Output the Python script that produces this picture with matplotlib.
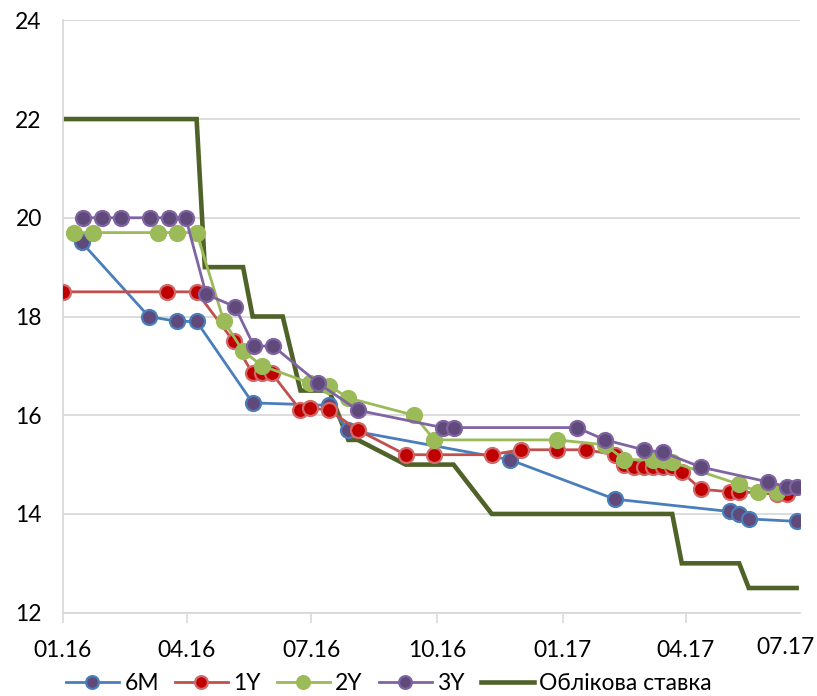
import matplotlib
matplotlib.use('Agg')
import matplotlib.pyplot as plt
import matplotlib.dates as mdates
import pandas as pd

# Data (dates, % rates)
m6_dates = ['2016-01-15', '2016-03-04', '2016-03-25', '2016-04-08', '2016-05-19', '2016-07-14',
            '2016-07-28', '2016-11-23', '2017-02-08', '2017-05-03', '2017-05-10', '2017-05-17',
            '2017-06-21']
m6_vals = [19.5, 18.0, 17.9, 17.9, 16.25, 16.2, 15.7, 15.1, 14.3, 14.05, 14.0, 13.9, 13.85]

y1_dates = ['2016-01-01', '2016-03-17', '2016-04-08', '2016-05-05', '2016-05-19', '2016-05-26',
            '2016-06-02', '2016-06-23', '2016-06-30', '2016-07-14', '2016-08-04', '2016-09-08',
            '2016-09-29', '2016-11-10', '2016-12-01', '2016-12-28', '2017-01-18', '2017-02-08',
            '2017-02-15', '2017-02-22', '2017-03-01', '2017-03-08', '2017-03-15', '2017-03-22',
            '2017-03-29', '2017-04-12', '2017-05-03', '2017-05-10', '2017-06-07', '2017-06-14']
y1_vals = [18.5, 18.5, 18.5, 17.5, 16.85, 16.85, 16.85, 16.1, 16.15, 16.1, 15.7, 15.2,
           15.2, 15.2, 15.3, 15.3, 15.3, 15.2, 15.0, 14.95, 14.95, 14.95, 14.95, 14.95,
           14.85, 14.5, 14.45, 14.45, 14.4, 14.4]

y2_dates = ['2016-01-09', '2016-01-23', '2016-03-11', '2016-03-25', '2016-04-08', '2016-04-28',
            '2016-05-12', '2016-05-26', '2016-06-30', '2016-07-14', '2016-07-28', '2016-09-14',
            '2016-09-29', '2016-12-28', '2017-02-01', '2017-02-15', '2017-03-08', '2017-03-15',
            '2017-03-22', '2017-05-10', '2017-05-24', '2017-06-07']
y2_vals = [19.7, 19.7, 19.7, 19.7, 19.7, 17.9, 17.3, 17.0, 16.65, 16.6, 16.35, 16.0,
           15.5, 15.5, 15.4, 15.1, 15.1, 15.1, 15.05, 14.6, 14.45, 14.45]

y3_dates = ['2016-01-16', '2016-01-30', '2016-02-13', '2016-03-05', '2016-03-19', '2016-03-31',
            '2016-04-15', '2016-05-06', '2016-05-20', '2016-06-03', '2016-07-06', '2016-08-04',
            '2016-10-05', '2016-10-13', '2017-01-11', '2017-02-01', '2017-03-01', '2017-03-15',
            '2017-04-12', '2017-05-31', '2017-06-14', '2017-06-21']
y3_vals = [20.0, 20.0, 20.0, 20.0, 20.0, 20.0, 18.45, 18.2, 17.4, 17.4, 16.65, 16.1,
           15.75, 15.75, 15.75, 15.5, 15.3, 15.25, 14.95, 14.65, 14.55, 14.55]

rate_dates = ['2016-01-01', '2016-04-08', '2016-04-14', '2016-05-12', '2016-05-19', '2016-06-10',
              '2016-06-23', '2016-07-14', '2016-07-28', '2016-08-04', '2016-09-08', '2016-10-13',
              '2016-11-10', '2017-03-22', '2017-03-29', '2017-05-10', '2017-05-17', '2017-06-21']
rate_vals = [22, 22, 19, 19, 18, 18, 16.5, 16.5, 15.5, 15.5, 15, 15, 14, 14, 13, 13, 12.5, 12.5]

tick_dates = ['2016-01-01', '2016-04-01', '2016-07-01', '2016-10-01', '2017-01-01', '2017-04-01']
series_names = ['6M', '1Y', '2Y', '3Y']
rate_name = 'Облікова ставка'

plt.rcParams['font.family'] = ['Lato', 'DejaVu Sans']
fs = 16.5

fig = plt.figure(figsize=(8.17, 6.96), dpi=100)
ax = fig.add_axes([0.0767, 0.1197, 0.9792 - 0.0767, 0.9708 - 0.1197])

grid_c = '#D9D9D9'

# policy rate goes under the bond series
ax.plot(pd.to_datetime(rate_dates), rate_vals, color='#4F6228', lw=3.3, zorder=2,
        label=rate_name, solid_joinstyle='miter')

styles = [
    ('#4A7EBB', '#5F4A7B', '#4A7EBB'),
    ('#C0504D', '#C00000', '#D06A6A'),
    ('#9BBB59', '#9BBB59', '#9BBB59'),
    ('#8064A2', '#604A7B', '#8064A2'),
]
all_dates = [m6_dates, y1_dates, y2_dates, y3_dates]
all_vals = [m6_vals, y1_vals, y2_vals, y3_vals]
handles = []
for i, (d, v) in enumerate(zip(all_dates, all_vals)):
    lc, fc, ec = styles[i]
    h, = ax.plot(pd.to_datetime(d), v, color=lc, lw=2.0, marker='o', ms=10.8,
                 markerfacecolor=fc, markeredgecolor=ec, markeredgewidth=1.6,
                 zorder=3 + i, label=series_names[i])
    handles.append(h)

x0 = pd.Timestamp('2016-01-01')
x1 = pd.Timestamp('2017-06-23 12:00')
ax.set_xlim(x0, x1)
ax.set_ylim(12, 24)
ax.set_yticks(range(12, 25, 2))

ax.set_xticks(pd.to_datetime(tick_dates))
ax.xaxis.set_major_formatter(mdates.DateFormatter('%m.%y'))
ax.tick_params(axis='x', length=7, width=1.2, color=grid_c, pad=12.5, labelsize=fs)
ax.tick_params(axis='y', length=0, pad=15, labelsize=fs)

ax.grid(axis='y', color=grid_c, lw=1.3)
ax.set_axisbelow(True)
for s in ['top', 'right']:
    ax.spines[s].set_visible(False)
for s in ['left', 'bottom']:
    ax.spines[s].set_color(grid_c)
    ax.spines[s].set_linewidth(1.3)

# last label sits at the axis end without a tick mark
ax.annotate('07.17', xy=(0.98, 0), xycoords='axes fraction', xytext=(0, -25),
            textcoords='offset points', ha='center', va='center', fontsize=fs)

rate_line = ax.lines[0]
leg = fig.legend(handles + [rate_line], series_names + [rate_name], loc='center',
                 bbox_to_anchor=(0.476, 0.018), ncol=5, frameon=False, fontsize=fs,
                 handlelength=2.3, handletextpad=0.25, columnspacing=0.7,
                 markerscale=0.85, borderpad=0.1)

fig.savefig('out.png', dpi=100)
